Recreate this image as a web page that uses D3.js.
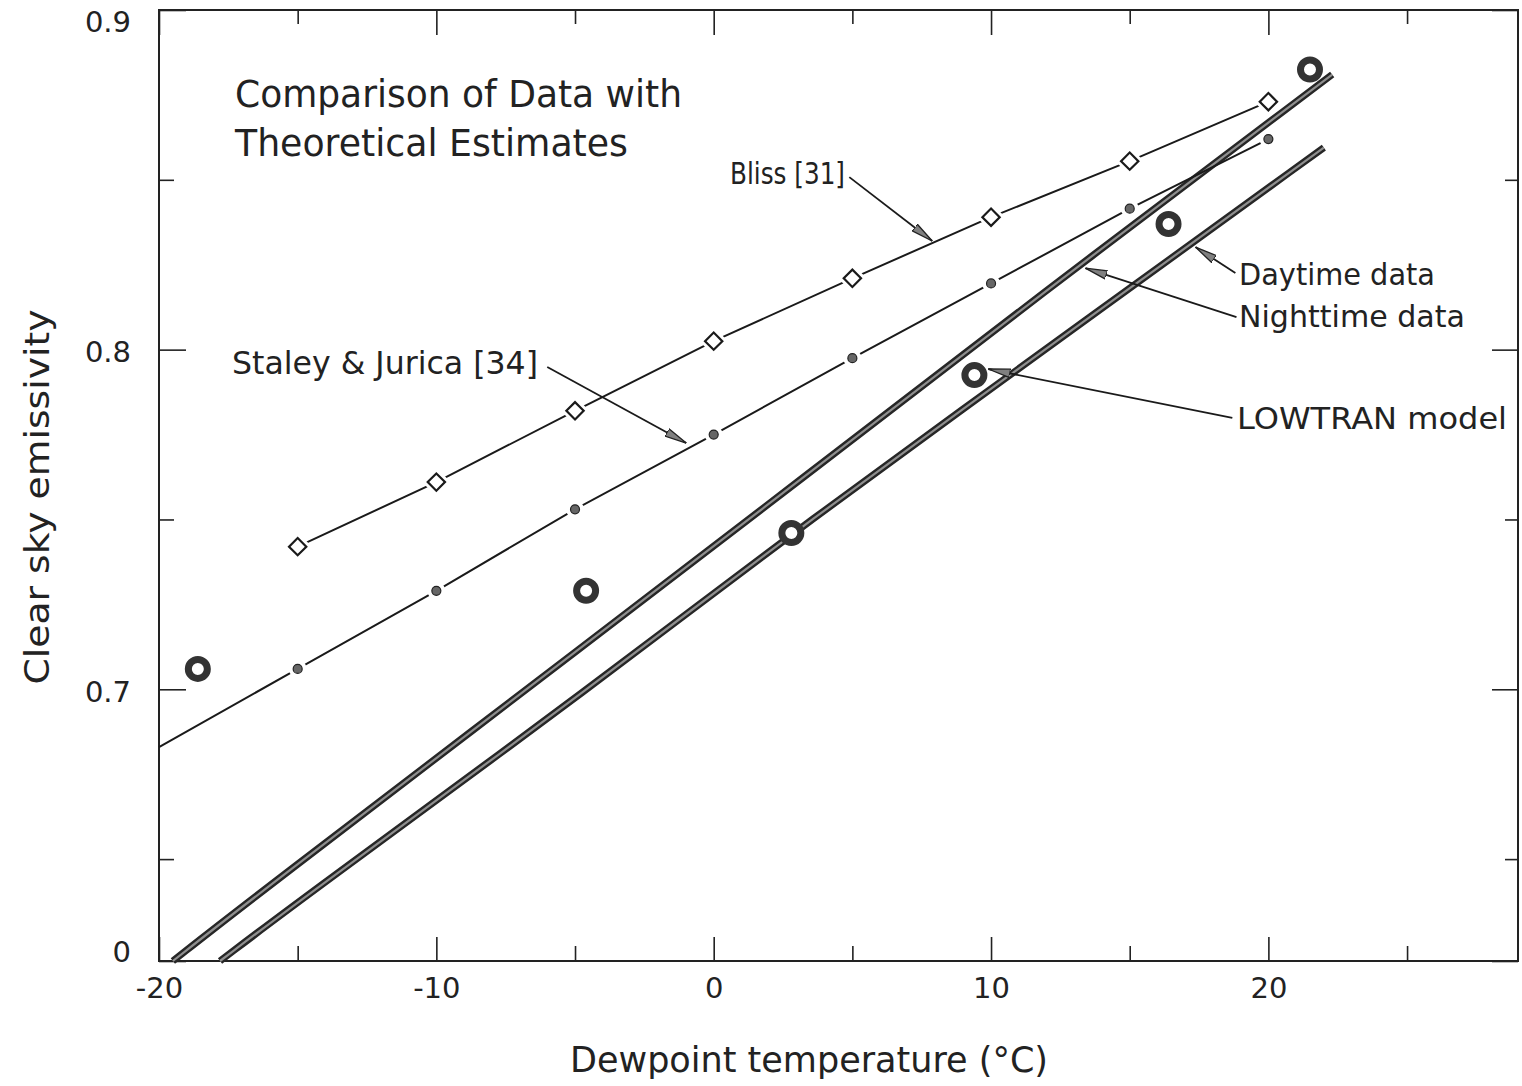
<!DOCTYPE html>
<html>
<head>
<meta charset="utf-8">
<script src="https://cdn.jsdelivr.net/npm/d3@7"></script>
<style>
  body { margin: 0; background: #fff; }
  svg { display: block; font-family: "DejaVu Sans", "Liberation Sans", sans-serif; }
</style>
</head>
<body>
<main></main>
<script>
// data (dewpoint in degC, clear sky emissivity)
const blissT = [-15, -10, -5, 0, 5, 10, 15, 20];
const blissE = [0.742, 0.761, 0.782, 0.8025, 0.821, 0.839, 0.8555, 0.873];

const staleyT = [-20, -15, -10, -5, 0, 5, 10, 15, 20];
const staleyE = [0.683, 0.706, 0.729, 0.753, 0.775, 0.7975, 0.8195, 0.8415, 0.862];

const lowtranT = [-18.6, -4.6, 2.8, 9.4, 16.4, 21.5];
const lowtranE = [0.706, 0.729, 0.746, 0.7925, 0.837, 0.8825];

const nightT = [-19.5, -16.7, -4.1, 3.1, 11.5, 22.3];
const nightE = [0.62, 0.638, 0.7165, 0.7615, 0.8145, 0.881];

const dayT = [-17.8, -14.9, -4.1, 2.8, 14.4, 22.0];
const dayE = [0.62, 0.638, 0.7025, 0.746, 0.8145, 0.8595];

const xMajor = [-20, -10, 0, 10, 20],
  xMinor = [-15, -5, 5, 15, 25],
  yMajor = [0.62, 0.7, 0.8, 0.9],
  yMinor = [0.65, 0.75, 0.85];

// leader lines: [fromT, fromE, toT, toE]
const leaders = [
  [4.89, 0.8508, 7.88, 0.832],    // Bliss
  [-6.0, 0.7949, -0.99, 0.7725],  // Staley & Jurica
  [18.81, 0.8226, 17.37, 0.8302], // Daytime
  [18.85, 0.8096, 13.4, 0.824],   // Nighttime
  [18.7, 0.7799, 9.9, 0.7943]     // LOWTRAN
];

const svgWidth = 1522,
  svgHeight = 1086,
  padL = 159, padR = 1518, padT = 10, padB = 961;

const x = d3.scaleLinear().domain([-20, 29]).range([padL, padR]),
  y = d3.scaleLinear().domain([0.62, 0.9]).range([padB, padT]);

const svg = d3.select("main").append("svg")
  .attr("width", svgWidth)
  .attr("height", svgHeight);

svg.append("defs").append("marker")
  .attr("id", "arrow")
  .attr("viewBox", "0 0 22 10")
  .attr("refX", 22).attr("refY", 5)
  .attr("markerWidth", 22).attr("markerHeight", 10)
  .attr("markerUnits", "userSpaceOnUse")
  .attr("orient", "auto")
  .append("path")
  .attr("d", "M0,0.8 L22,5 L0,9.2 Z")
  .attr("fill", "#808080").attr("stroke", "#222").attr("stroke-width", 1.3);

const fmtX = d => d < 0 ? "-" + Math.abs(d) : String(d),
  fmtY = d => d < 0.65 ? "0" : d.toFixed(1);

// axes, ticks pointing inward
function styleAxis(g) {
  g.select(".domain").remove();
  g.selectAll("line").attr("stroke", "#222").attr("stroke-width", 1.6);
  g.selectAll("text").attr("fill", "#222").attr("font-size", 29)
    .attr("font-family", "DejaVu Sans, sans-serif");
}
svg.append("g").attr("transform", `translate(0,${padB})`)
  .call(d3.axisBottom(x).tickValues(xMajor).tickSizeInner(-24).tickSizeOuter(0).tickPadding(16).tickFormat(fmtX))
  .call(styleAxis);
svg.append("g").attr("transform", `translate(0,${padB})`)
  .call(d3.axisBottom(x).tickValues(xMinor).tickSizeInner(-15).tickSizeOuter(0).tickFormat(""))
  .call(styleAxis);
svg.append("g").attr("transform", `translate(0,${padT})`)
  .call(d3.axisTop(x).tickValues(xMajor).tickSizeInner(-25).tickSizeOuter(0).tickFormat(""))
  .call(styleAxis);
svg.append("g").attr("transform", `translate(0,${padT})`)
  .call(d3.axisTop(x).tickValues(xMinor).tickSizeInner(-14).tickSizeOuter(0).tickFormat(""))
  .call(styleAxis);
svg.append("g").attr("transform", `translate(${padL},0)`)
  .call(d3.axisLeft(y).tickValues(yMajor).tickSizeInner(-27).tickSizeOuter(0).tickPadding(28).tickFormat(fmtY))
  .call(styleAxis)
  .call(g => g.selectAll("text").attr("dy", d => d > 0.85 ? "0.75em" : d < 0.65 ? "0em" : "0.42em"));
svg.append("g").attr("transform", `translate(${padL},0)`)
  .call(d3.axisLeft(y).tickValues(yMinor).tickSizeInner(-15).tickSizeOuter(0).tickFormat(""))
  .call(styleAxis);
svg.append("g").attr("transform", `translate(${padR},0)`)
  .call(d3.axisRight(y).tickValues(yMajor).tickSizeInner(-26).tickSizeOuter(0).tickFormat(""))
  .call(styleAxis);
svg.append("g").attr("transform", `translate(${padR},0)`)
  .call(d3.axisRight(y).tickValues(yMinor).tickSizeInner(-13).tickSizeOuter(0).tickFormat(""))
  .call(styleAxis);

svg.append("rect")
  .attr("x", padL).attr("y", padT)
  .attr("width", padR - padL).attr("height", padB - padT)
  .attr("fill", "none").attr("stroke", "#222").attr("stroke-width", 2);

const plot = svg.append("g");

// thick double-stroke lines (daytime / nighttime fits)
const thick = d3.line().x(d => x(d[0])).y(d => y(d[1])).curve(d3.curveBasis);
[d3.zip(nightT, nightE), d3.zip(dayT, dayE)].forEach(pts => {
  plot.append("path").attr("d", thick(pts)).attr("fill", "none")
    .attr("stroke", "#262626").attr("stroke-width", 7);
  plot.append("path").attr("d", thick(pts)).attr("fill", "none")
    .attr("stroke", "#8f8f8f").attr("stroke-width", 2.2);
});

// thin model lines
const thin = d3.line().x(d => x(d[0])).y(d => y(d[1]));
plot.append("path").attr("d", thin(d3.zip(blissT, blissE)))
  .attr("fill", "none").attr("stroke", "#1a1a1a").attr("stroke-width", 2);
plot.append("path").attr("d", thin(d3.zip(staleyT, staleyE)))
  .attr("fill", "none").attr("stroke", "#1a1a1a").attr("stroke-width", 2);

// Bliss diamonds
const diamond = d3.symbol().type(d3.symbolSquare).size(150);
plot.selectAll(".bliss").data(d3.zip(blissT, blissE)).join("path")
  .attr("class", "bliss")
  .attr("d", diamond)
  .attr("transform", d => `translate(${x(d[0])},${y(d[1])}) rotate(45)`)
  .attr("fill", "#fff").attr("stroke", "#fff").attr("stroke-width", 8);
plot.selectAll(".bliss2").data(d3.zip(blissT, blissE)).join("path")
  .attr("class", "bliss2")
  .attr("d", diamond)
  .attr("transform", d => `translate(${x(d[0])},${y(d[1])}) rotate(45)`)
  .attr("fill", "#fff").attr("stroke", "#1a1a1a").attr("stroke-width", 2.2);

// Staley & Jurica dots
const staleyPts = d3.zip(staleyT, staleyE).filter(d => d[0] > -20);
plot.selectAll(".sj-halo").data(staleyPts).join("circle")
  .attr("class", "sj-halo")
  .attr("cx", d => x(d[0])).attr("cy", d => y(d[1])).attr("r", 9).attr("fill", "#fff");
plot.selectAll(".sj").data(staleyPts).join("circle")
  .attr("class", "sj")
  .attr("cx", d => x(d[0])).attr("cy", d => y(d[1])).attr("r", 4.5)
  .attr("fill", "#666").attr("stroke", "#222").attr("stroke-width", 1.2);

// LOWTRAN rings
plot.selectAll(".lt").data(d3.zip(lowtranT, lowtranE)).join("circle")
  .attr("class", "lt")
  .attr("cx", d => x(d[0])).attr("cy", d => y(d[1])).attr("r", 9.5)
  .attr("fill", "#fff").attr("stroke", "#333").attr("stroke-width", 7);

// leader arrows
plot.selectAll(".leader").data(leaders).join("line")
  .attr("class", "leader")
  .attr("x1", d => x(d[0])).attr("y1", d => y(d[1]))
  .attr("x2", d => x(d[2])).attr("y2", d => y(d[3]))
  .attr("stroke", "#1a1a1a").attr("stroke-width", 1.8)
  .attr("marker-end", "url(#arrow)");

// labels
const labels = [
  { t: "Comparison of Data with", x: 235, y: 107, w: 447, s: 37 },
  { t: "Theoretical Estimates", x: 235, y: 156, w: 393, s: 37 },
  { t: "Bliss [31]", x: 730, y: 184, w: 115, s: 31 },
  { t: "Staley & Jurica [34]", x: 232, y: 374, w: 306, s: 32 },
  { t: "Daytime data", x: 1239, y: 285, w: 196, s: 31 },
  { t: "Nighttime data", x: 1239, y: 327, w: 226, s: 31 },
  { t: "LOWTRAN model", x: 1237, y: 429, w: 270, s: 31 }
];
svg.selectAll(".lbl").data(labels).join("text")
  .attr("class", "lbl")
  .attr("x", d => d.x).attr("y", d => d.y)
  .attr("font-size", d => d.s)
  .attr("textLength", d => d.w).attr("lengthAdjust", "spacingAndGlyphs")
  .attr("fill", "#222")
  .text(d => d.t);

svg.append("text")
  .attr("x", 809).attr("y", 1072)
  .attr("text-anchor", "middle")
  .attr("font-size", 36).attr("fill", "#222")
  .attr("textLength", 478).attr("lengthAdjust", "spacingAndGlyphs")
  .text("Dewpoint temperature (°C)");

svg.append("text")
  .attr("transform", "translate(49,497) rotate(-90)")
  .attr("text-anchor", "middle")
  .attr("font-size", 34).attr("fill", "#222")
  .attr("textLength", 375).attr("lengthAdjust", "spacingAndGlyphs")
  .text("Clear sky emissivity");
</script>
</body>
</html>
